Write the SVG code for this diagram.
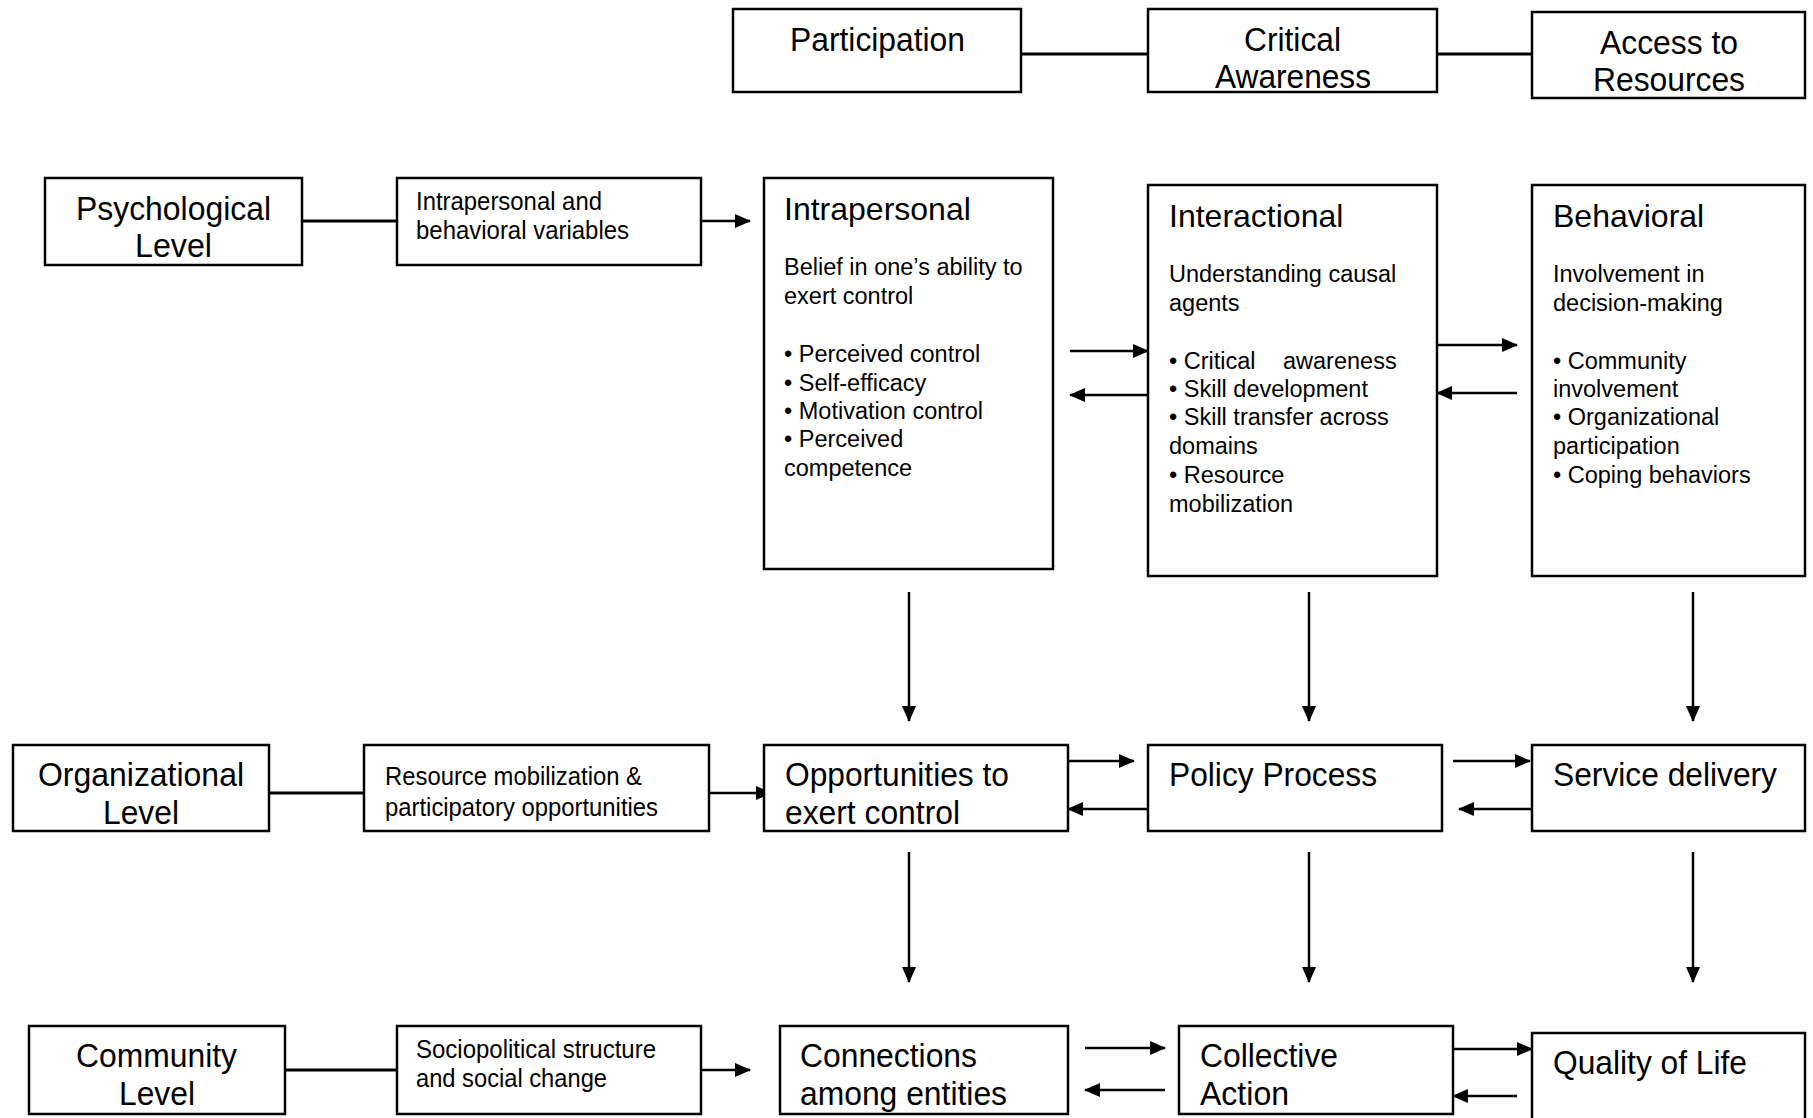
<svg xmlns="http://www.w3.org/2000/svg" width="1813" height="1118" viewBox="0 0 1813 1118">
<defs>
<style>
.box{fill:#fff;stroke:#000;stroke-width:2.5}
.c{font-family:"Liberation Sans",Arial,sans-serif;fill:#000}
.big{font-size:34px}
.sm{font-size:26px}
.hd{font-family:"Liberation Sans",Arial,sans-serif;font-size:32px;fill:#000}
.tx{font-family:"Liberation Sans",Arial,sans-serif;font-size:23.5px;fill:#000}
.ln{stroke:#000;stroke-width:3;fill:none}
.ar{stroke:#000;stroke-width:2.5;fill:none;marker-end:url(#ah)}
</style>
<marker id="ah" markerUnits="userSpaceOnUse" markerWidth="16" markerHeight="14" refX="15" refY="7" orient="auto">
<path d="M0,0 L16,7 L0,14 z" fill="#000"/>
</marker>
</defs>
<rect width="1813" height="1118" fill="#fff"/>

<g id="connectors">
<line class="ln" x1="1021" y1="54" x2="1148" y2="54"/>
<line class="ln" x1="1437" y1="54" x2="1532" y2="54"/>
<line class="ln" x1="302" y1="221" x2="397" y2="221"/>
<line class="ar" x1="701" y1="221" x2="750" y2="221"/>
<line class="ar" x1="1070" y1="351" x2="1148" y2="351"/>
<line class="ar" x1="1148" y1="395" x2="1070" y2="395"/>
<line class="ar" x1="1437" y1="345" x2="1517" y2="345"/>
<line class="ar" x1="1517" y1="393" x2="1437" y2="393"/>
<line class="ar" x1="909" y1="592" x2="909" y2="721"/>
<line class="ar" x1="1309" y1="592" x2="1309" y2="721"/>
<line class="ar" x1="1693" y1="592" x2="1693" y2="721"/>
<line class="ln" x1="269" y1="793" x2="364" y2="793"/>
<line class="ar" x1="701" y1="793" x2="771" y2="793"/>
<line class="ar" x1="1068" y1="761" x2="1134" y2="761"/>
<line class="ar" x1="1148" y1="809" x2="1068" y2="809"/>
<line class="ar" x1="1453" y1="761" x2="1530" y2="761"/>
<line class="ar" x1="1532" y1="809" x2="1459" y2="809"/>
<line class="ar" x1="909" y1="852" x2="909" y2="982"/>
<line class="ar" x1="1309" y1="852" x2="1309" y2="982"/>
<line class="ar" x1="1693" y1="852" x2="1693" y2="982"/>
<line class="ln" x1="285" y1="1070" x2="397" y2="1070"/>
<line class="ar" x1="701" y1="1070" x2="750" y2="1070"/>
<line class="ar" x1="1085" y1="1048" x2="1165" y2="1048"/>
<line class="ar" x1="1165" y1="1090" x2="1085" y2="1090"/>
<line class="ar" x1="1453" y1="1049" x2="1532" y2="1049"/>
<line class="ar" x1="1517" y1="1096" x2="1453" y2="1096"/>
</g>

<g id="participation">
<rect class="box" x="733" y="9" width="288" height="83"/>
<text class="c big" x="790" y="51" textLength="175" lengthAdjust="spacingAndGlyphs">Participation</text>
</g>
<g id="critical-awareness">
<rect class="box" x="1148" y="9" width="289" height="83"/>
<text class="c big" x="1244" y="51" textLength="97" lengthAdjust="spacingAndGlyphs">Critical</text>
<text class="c big" x="1215" y="88" textLength="156" lengthAdjust="spacingAndGlyphs">Awareness</text>
</g>
<g id="access-to-resources">
<rect class="box" x="1532" y="12" width="273" height="86"/>
<text class="c big" x="1600" y="54" textLength="138" lengthAdjust="spacingAndGlyphs">Access to</text>
<text class="c big" x="1593" y="91" textLength="152" lengthAdjust="spacingAndGlyphs">Resources</text>
</g>

<g id="psychological-level">
<rect class="box" x="45" y="178" width="257" height="87"/>
<text class="c big" x="76" y="220" textLength="195" lengthAdjust="spacingAndGlyphs">Psychological</text>
<text class="c big" x="135" y="257" textLength="77" lengthAdjust="spacingAndGlyphs">Level</text>
</g>
<g id="intrapersonal-variables">
<rect class="box" x="397" y="178" width="304" height="87"/>
<text class="c sm" x="416" y="210" textLength="186" lengthAdjust="spacingAndGlyphs">Intrapersonal and</text>
<text class="c sm" x="416" y="239" textLength="213" lengthAdjust="spacingAndGlyphs">behavioral variables</text>
</g>
<g id="intrapersonal">
<rect class="box" x="764" y="178" width="289" height="391"/>
<text class="hd" x="784" y="220">Intrapersonal</text>
<text class="tx" x="784" y="275">Belief in one’s ability to</text>
<text class="tx" x="784" y="304">exert control</text>
<text class="tx" x="784" y="362">• Perceived control</text>
<text class="tx" x="784" y="391">• Self-efficacy</text>
<text class="tx" x="784" y="419">• Motivation control</text>
<text class="tx" x="784" y="447">• Perceived</text>
<text class="tx" x="784" y="476">competence</text>
</g>
<g id="interactional">
<rect class="box" x="1148" y="185" width="289" height="391"/>
<text class="hd" x="1169" y="227">Interactional</text>
<text class="tx" x="1169" y="282">Understanding causal</text>
<text class="tx" x="1169" y="311">agents</text>
<text class="tx" x="1169" y="369">• Critical<tspan x="1283">awareness</tspan></text>
<text class="tx" x="1169" y="397">• Skill development</text>
<text class="tx" x="1169" y="425">• Skill transfer across</text>
<text class="tx" x="1169" y="454">domains</text>
<text class="tx" x="1169" y="483">• Resource</text>
<text class="tx" x="1169" y="512">mobilization</text>
</g>
<g id="behavioral">
<rect class="box" x="1532" y="185" width="273" height="391"/>
<text class="hd" x="1553" y="227">Behavioral</text>
<text class="tx" x="1553" y="282">Involvement in</text>
<text class="tx" x="1553" y="311">decision-making</text>
<text class="tx" x="1553" y="369">• Community</text>
<text class="tx" x="1553" y="397">involvement</text>
<text class="tx" x="1553" y="425">• Organizational</text>
<text class="tx" x="1553" y="454">participation</text>
<text class="tx" x="1553" y="483">• Coping behaviors</text>
</g>

<g id="organizational-level">
<rect class="box" x="13" y="745" width="256" height="86"/>
<text class="c big" x="38" y="786" textLength="206" lengthAdjust="spacingAndGlyphs">Organizational</text>
<text class="c big" x="103" y="824" textLength="76" lengthAdjust="spacingAndGlyphs">Level</text>
</g>
<g id="resource-mobilization">
<rect class="box" x="364" y="745" width="345" height="86"/>
<text class="c sm" x="385" y="785" textLength="257" lengthAdjust="spacingAndGlyphs">Resource mobilization &amp;</text>
<text class="c sm" x="385" y="816" textLength="273" lengthAdjust="spacingAndGlyphs">participatory opportunities</text>
</g>
<g id="opportunities">
<rect class="box" x="764" y="745" width="304" height="86"/>
<text class="c big" x="785" y="786" textLength="224" lengthAdjust="spacingAndGlyphs">Opportunities to</text>
<text class="c big" x="785" y="824" textLength="175" lengthAdjust="spacingAndGlyphs">exert control</text>
</g>
<g id="policy-process">
<rect class="box" x="1148" y="745" width="294" height="86"/>
<text class="c big" x="1169" y="786" textLength="208" lengthAdjust="spacingAndGlyphs">Policy Process</text>
</g>
<g id="service-delivery">
<rect class="box" x="1532" y="745" width="273" height="86"/>
<text class="c big" x="1553" y="786" textLength="224" lengthAdjust="spacingAndGlyphs">Service delivery</text>
</g>

<g id="community-level">
<rect class="box" x="29" y="1026" width="256" height="88"/>
<text class="c big" x="76" y="1067" textLength="161" lengthAdjust="spacingAndGlyphs">Community</text>
<text class="c big" x="119" y="1105" textLength="76" lengthAdjust="spacingAndGlyphs">Level</text>
</g>
<g id="sociopolitical">
<rect class="box" x="397" y="1026" width="304" height="88"/>
<text class="c sm" x="416" y="1058" textLength="240" lengthAdjust="spacingAndGlyphs">Sociopolitical structure</text>
<text class="c sm" x="416" y="1087" textLength="191" lengthAdjust="spacingAndGlyphs">and social change</text>
</g>
<g id="connections">
<rect class="box" x="780" y="1026" width="288" height="88"/>
<text class="c big" x="800" y="1067" textLength="177" lengthAdjust="spacingAndGlyphs">Connections</text>
<text class="c big" x="800" y="1105" textLength="207" lengthAdjust="spacingAndGlyphs">among entities</text>
</g>
<g id="collective-action">
<rect class="box" x="1179" y="1026" width="274" height="88"/>
<text class="c big" x="1200" y="1067" textLength="138" lengthAdjust="spacingAndGlyphs">Collective</text>
<text class="c big" x="1200" y="1105" textLength="89" lengthAdjust="spacingAndGlyphs">Action</text>
</g>
<g id="quality-of-life">
<rect class="box" x="1532" y="1033" width="273" height="100"/>
<text class="c big" x="1553" y="1074" textLength="194" lengthAdjust="spacingAndGlyphs">Quality of Life</text>
</g>
</svg>
